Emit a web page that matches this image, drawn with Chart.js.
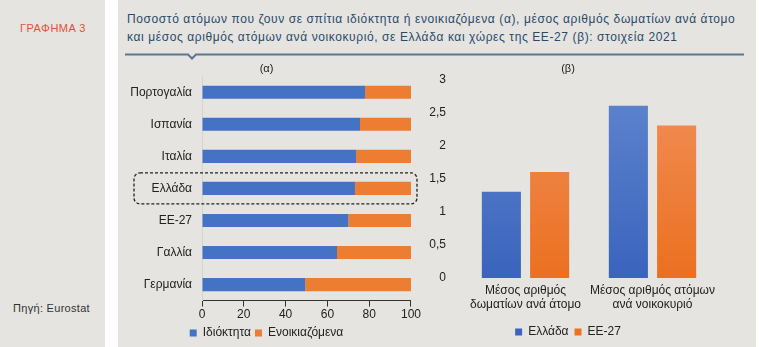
<!DOCTYPE html>
<html lang="el">
<head>
<meta charset="utf-8">
<script src="https://cdn.jsdelivr.net/npm/chart.js@4.4.1/dist/chart.umd.min.js"></script>
<style>
  body { margin: 0; background: #fff; font-family: "Liberation Sans", Arial, sans-serif; overflow: hidden; }
  .side { position: absolute; left: 0; top: 0; width: 105px; height: 347px; background: #e5e4e0; }
  .main { position: absolute; left: 118px; top: 0; width: 638px; height: 347px; background: #e5e4e0; }
  .label { position: absolute; left: 20px; top: 22px; color: #e0533a; font-size: 11px; letter-spacing: 0.5px; }
  .source { position: absolute; left: 13px; top: 302px; color: #333; font-size: 11px; letter-spacing: 0.3px; }
  .title { position: absolute; left: 9px; top: 10px; color: #2b4a6b; font-size: 12px; line-height: 18px; letter-spacing: 0.6px; white-space: nowrap; }
  .rule { position: absolute; left: 7px; top: 50px; }
  canvas { position: absolute; }
</style>
</head>
<body>
<div class="side">
  <div class="label">ΓΡΑΦΗΜΑ 3</div>
  <div class="source">Πηγή: Eurostat</div>
</div>
<div class="main">
  <div class="title">Ποσοστό ατόμων που ζουν σε σπίτια ιδιόκτητα ή ενοικιαζόμενα (α), μέσος αριθμός δωματίων ανά άτομο<br>και μέσος αριθμός ατόμων ανά νοικοκυριό, σε Ελλάδα και χώρες της ΕΕ-27 (β): στοιχεία 2021</div>
  <svg class="rule" width="625" height="12">
    <polyline points="0,4.5 63,4.5 67,8.5 71,4.5 619,4.5" fill="none" stroke="#5b7691" stroke-width="2"/>
  </svg>
</div>
<canvas id="tenure" width="304" height="291" style="left:118px; top:58px; width:304px; height:291px;"></canvas>
<canvas id="rooms" width="312" height="291" style="left:420px; top:58px; width:312px; height:291px;"></canvas>
<script>
// (α) ownership vs renting, % of population
const countries = ['Πορτογαλία', 'Ισπανία', 'Ιταλία', 'Ελλάδα', 'ΕΕ-27', 'Γαλλία', 'Γερμανία'];
const owned = [78, 75.6, 73.7, 73.2, 70, 64.6, 49.4];
const rented = [22, 24.4, 26.3, 26.8, 30, 35.4, 50.6];
const pctTicks = [0, 20, 40, 60, 80, 100];

// (β) average rooms per person / persons per household
const measures = [['Μέσος αριθμός', 'δωματίων ανά άτομο'], ['Μέσος αριθμός ατόμων', 'ανά νοικοκυριό']];
const greece = [1.3, 2.6];
const eu27 = [1.6, 2.3];

const BLUE = '#4472c4';
const ORANGE = '#ed7d31';
const FONT = { family: '"Liberation Sans", Arial, sans-serif', size: 12 };
Chart.defaults.color = '#222';
Chart.defaults.font = FONT;

// dashed rounded box around the Greece row
const highlight = {
  id: 'highlight',
  afterDraw(chart) {
    const y = chart.scales.y.getPixelForValue(countries.indexOf('Ελλάδα'));
    const left = chart.chartArea.left - 68;
    const right = chart.chartArea.right + 6;
    const ctx = chart.ctx;
    ctx.save();
    ctx.setLineDash([3, 2]);
    ctx.lineWidth = 1.3;
    ctx.strokeStyle = '#222';
    ctx.beginPath();
    ctx.roundRect(left, y - 15.5, right - left, 31, 6);
    ctx.stroke();
    ctx.restore();
  }
};

const titleOpts = (text, bottom) => ({
  display: true, text, color: '#222',
  font: { ...FONT, size: 11, weight: 'normal' },
  padding: { top: 4, bottom }
});

new Chart(document.getElementById('tenure'), {
  type: 'bar',
  data: {
    labels: countries,
    datasets: [
      { label: 'Ιδιόκτητα', data: owned, backgroundColor: BLUE },
      { label: 'Ενοικιαζόμενα', data: rented, backgroundColor: ORANGE }
    ]
  },
  options: {
    indexAxis: 'y',
    responsive: false,
    animation: false,
    barPercentage: 0.41,
    categoryPercentage: 1,
    layout: { padding: { left: 0, right: 7, top: 0, bottom: 0 } },
    scales: {
      x: {
        stacked: true, min: 0, max: 100,
        afterBuildTicks: s => { s.ticks = pctTicks.map(v => ({ value: v })); },
        grid: { drawOnChartArea: false, color: '#333', tickLength: 6 },
        border: { color: '#333' },
        ticks: { padding: 1 }
      },
      y: {
        stacked: true,
        afterFit: s => { s.width = 84; },
        grid: { display: false },
        border: { color: '#d6d4d0' },
        ticks: { padding: 2 }
      }
    },
    plugins: {
      title: titleOpts('(α)', 1),
      legend: {
        position: 'bottom',
        labels: { boxWidth: 7, boxHeight: 7, padding: 4 }
      },
      tooltip: { enabled: false }
    }
  },
  plugins: [highlight]
});

// vertical gradient for the (β) bars
function shade(top, bottom) {
  return ctx => {
    const area = ctx.chart.chartArea;
    if (!area) return bottom;
    const g = ctx.chart.ctx.createLinearGradient(0, area.top, 0, area.bottom);
    g.addColorStop(0, top);
    g.addColorStop(1, bottom);
    return g;
  };
}

new Chart(document.getElementById('rooms'), {
  type: 'bar',
  data: {
    labels: measures,
    datasets: [
      { label: 'Ελλάδα', data: greece, backgroundColor: shade('#5f86cf', '#3a64bd') },
      { label: 'ΕΕ-27', data: eu27, backgroundColor: shade('#f1905a', '#eb7020') }
    ]
  },
  options: {
    responsive: false,
    animation: false,
    categoryPercentage: 0.76,
    barPercentage: 0.81,
    layout: { padding: { left: 0, right: 16, top: 0, bottom: 1 } },
    scales: {
      x: {
        afterFit: s => { s.height = 42; },
        grid: { display: false, drawTicks: false },
        border: { display: false },
        ticks: { padding: 6, maxRotation: 0, minRotation: 0, autoSkip: false, font: { ...FONT, lineHeight: 1.15 } }
      },
      y: {
        min: 0, max: 3,
        afterFit: s => { s.width = 42; },
        grid: { display: false },
        border: { display: false },
        ticks: { stepSize: 0.5, padding: 8, callback: v => String(v).replace('.', ',') }
      }
    },
    plugins: {
      title: titleOpts('(β)', 4),
      legend: {
        position: 'bottom',
        labels: { boxWidth: 7, boxHeight: 7, padding: 6 }
      },
      tooltip: { enabled: false }
    }
  }
});
</script>
</body>
</html>
